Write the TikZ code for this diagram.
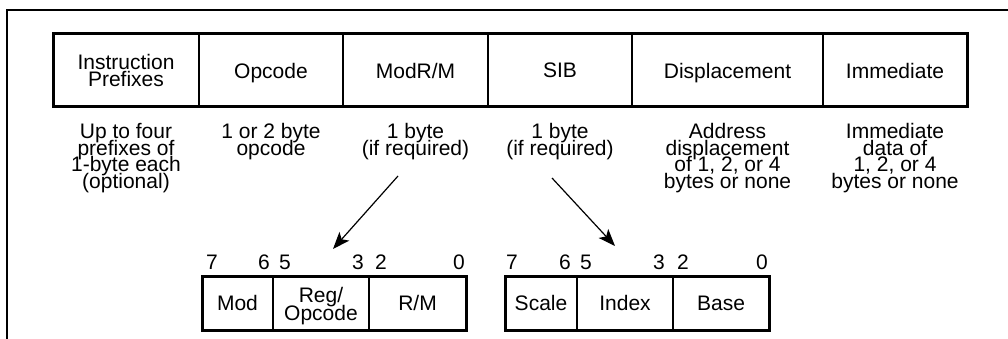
\documentclass[tikz,border=0pt]{standalone}
\usepackage{fontspec}
\setmainfont{Liberation Sans}
\usetikzlibrary{arrows.meta}
\newcommand{\tightlines}{\lineskiplimit=-50pt\lineskip=0pt\relax}
\begin{document}
\begin{tikzpicture}[x=1pt,y=-1pt,
  hcell/.style={draw, line width=1.3pt, minimum height=73pt, inner sep=0pt, outer sep=0pt,
    anchor=north west, align=center, text depth=0pt, font=\fontsize{21}{17.5}\selectfont\tightlines},
  bcell/.style={draw, line width=1.3pt, minimum height=54pt, inner sep=0pt, outer sep=0pt,
    anchor=north west, align=center, font=\fontsize{21}{18}\selectfont},
  desc/.style={anchor=north, align=center, inner sep=0pt, font=\fontsize{21}{16.7}\selectfont\tightlines},
  bitl/.style={inner sep=0pt, anchor=base west, font=\fontsize{21}{18}\selectfont},
  bitr/.style={inner sep=0pt, anchor=base east, font=\fontsize{21}{18}\selectfont},
  thick border/.style={line width=3pt},
  arr/.style={line width=1.2pt, -{Stealth[length=17pt,width=13pt,inset=4pt]}}]
\useasboundingbox (0,0) rectangle (1008,339);

% outer frame
\draw[line width=2pt] (7,345) -- (7,10) -- (1015,10);

% instruction format cells
\node[hcell, minimum width=146pt] (h1) at (53,34) {Instruction\\Prefixes};
\node[hcell, minimum width=144pt] (h2) at (199,34) {Opcode};
\node[hcell, minimum width=145pt] (h3) at (343,34) {ModR/M};
\node[hcell, minimum width=144pt] (h4) at (488,34) {SIB};
\node[hcell, minimum width=191pt] (h5) at (632,34) {Displacement};
\node[hcell, minimum width=144pt] (h6) at (823,34) {Immediate};
\draw[thick border] (h1.north west) rectangle (h6.south east);

% descriptions
\node[desc] (d1) at (126,123) {Up to four\\prefixes of\\1-byte each\\(optional)};
\node[desc] (d2) at (271,123) {1 or 2 byte\\opcode};
\node[desc] (d3) at (415.5,123) {1 byte\\(if required)};
\node[desc] (d4) at (560,123) {1 byte\\(if required)};
\node[desc] (d5) at (727.5,123) {Address\\displacement\\of 1, 2, or 4\\bytes or none};
\node[desc] (d6) at (895,123) {Immediate\\data of\\1, 2, or 4\\bytes or none};

% ModR/M byte
\node[bcell, minimum width=71pt] (mod) at (202,276) {Mod};
\node[bcell, minimum width=96pt] (reg) at (273,276) {};
\node[inner sep=0pt, align=center, font=\fontsize{21}{17.5}\selectfont\tightlines] (regtxt) at ([yshift=-3pt]reg.center) {Reg/\\Opcode};
\node[bcell, minimum width=97pt] (rm) at (369,276) {R/M};
\draw[thick border] (mod.north west) rectangle (rm.south east);

\node[bitl] (m7) at (206,269) {7};
\node[bitr] (m6) at (270,269) {6};
\node[bitl] (m5) at (279,269) {5};
\node[bitr] (m3) at (364,269) {3};
\node[bitl] (m2) at (375,269) {2};
\node[bitr] (m0) at (465,269) {0};

% SIB byte
\node[bcell, minimum width=72pt] (scale) at (505,276) {Scale};
\node[bcell, minimum width=96pt] (index) at (577,276) {Index};
\node[bcell, minimum width=96pt] (base) at (673,276) {Base};
\draw[thick border] (scale.north west) rectangle (base.south east);

\node[bitl] (s7) at (506,269) {7};
\node[bitr] (s6) at (571,269) {6};
\node[bitl] (s5) at (580,269) {5};
\node[bitr] (s3) at (665,269) {3};
\node[bitl] (s2) at (677,269) {2};
\node[bitr] (s0) at (768,269) {0};

% arrows
\coordinate (a1s) at (398,176);
\coordinate (a1e) at (333,249);
\coordinate (a2s) at (552,178);
\coordinate (a2e) at (615,246);
\draw[arr] (a1s) -- (a1e);
\draw[arr] (a2s) -- (a2e);
\end{tikzpicture}
\end{document}
